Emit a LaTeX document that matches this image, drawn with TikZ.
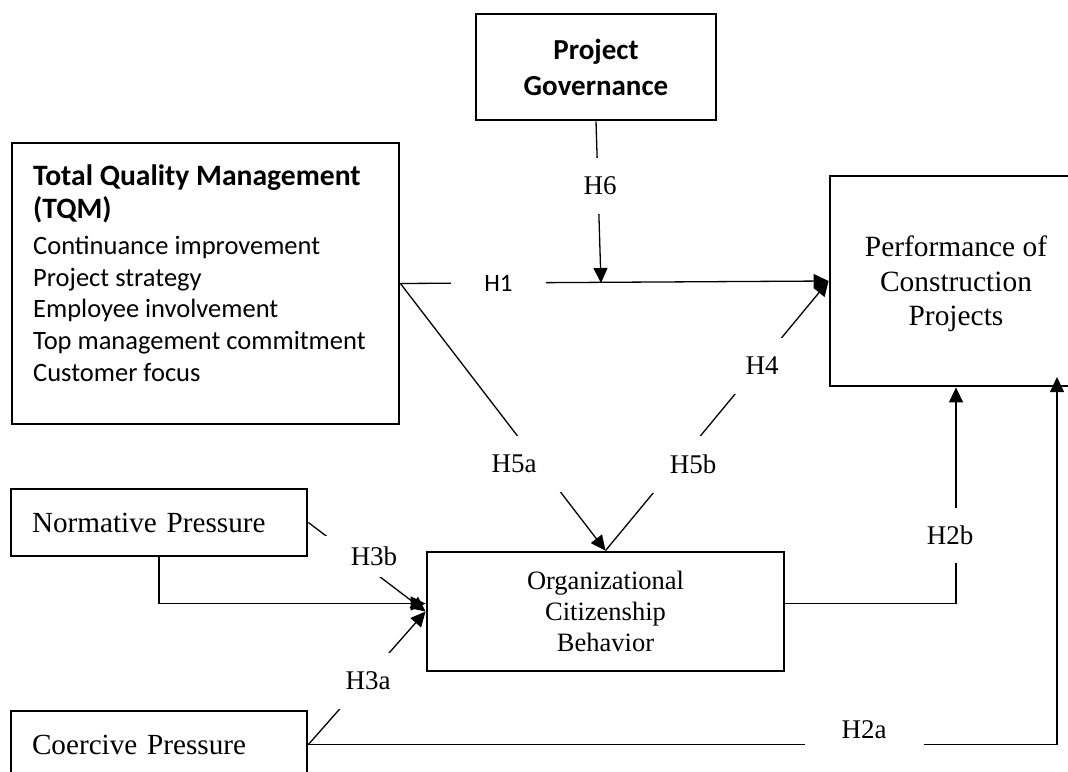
\documentclass[tikz,border=0pt]{standalone}
\usepackage{fontspec}
\setmainfont{Liberation Serif}
\newfontfamily\calibfont{Carlito}
\usetikzlibrary{arrows.meta}
\tikzset{
  box/.style={draw, line width=2.8pt, inner sep=0pt},
  arr/.style={line width=1.3pt, -{Triangle[length=15pt,width=14pt]}},
  hyp/.style={fill=white, inner sep=4pt, font=\fontsize{27}{32}\selectfont}
}
\begin{document}
\begin{tikzpicture}[x=1pt,y=-1pt]
\useasboundingbox (0,0) rectangle (1068,771);
\clip (0,0) rectangle (1068,771);

\node[box, minimum width=240pt, minimum height=106pt, align=center, font=\calibfont\bfseries\fontsize{29}{36}\selectfont] (pg) at (596,67) {Project\\Governance};
\node[box, minimum width=387pt, minimum height=281pt] (tqm) at (205.5,283.5) {};
\node[anchor=north west, inner sep=0pt, align=left, font=\calibfont\fontsize{26.5}{31.7}\selectfont] (tqmtext) at (33,165) {\textbf{\fontsize{29.6}{33}\selectfont Total Quality Management}\\[1pt]
  \textbf{\fontsize{29.6}{33}\selectfont (TQM)}\\[4pt]
  Continuance improvement\\ Project strategy\\ Employee involvement\\ Top management commitment\\ Customer focus};
\node[box, minimum width=252pt, minimum height=210pt, align=center, text depth=0pt, font=\fontsize{29.4}{34.5}\selectfont] (perf) at (956,281) {Performance of\\Construction\\Projects};
\node[box, minimum width=357pt, minimum height=119pt, align=center, font=\fontsize{26.5}{31}\selectfont] (ocb) at (605.5,611.5) {Organizational\\Citizenship\\Behavior};
\node[box, minimum width=296pt, minimum height=67pt, text width=254pt, inner xsep=21pt, align=left, font=\fontsize{29.2}{34}\selectfont] (norm) at (159,522.5) {Normative Pressure};
\node[box, minimum width=296pt, minimum height=67pt, text width=254pt, inner xsep=21pt, align=left, font=\fontsize{29.2}{34}\selectfont] (coer) at (159,744.5) {Coercive Pressure};

\coordinate (mod) at (601,283);
\coordinate (h2atip) at (1057,377);

\draw[arr] (tqm.east) -- (perf.west);
\draw[arr] (pg.south) -- (mod);
\draw[arr] (tqm.east) -- (ocb.north);
\draw[arr] (ocb.north) -- (perf.west);
\draw[arr] (norm.south) |- ([yshift=8pt]ocb.west);
\draw[arr] (norm.east) -- (ocb.west);
\draw[arr] (coer.east) -- (ocb.west);
\draw[arr] ([yshift=8pt]ocb.east) -| (perf.south);
\draw[arr] (coer.east) -| (h2atip);

\node[hyp, font=\calibfont\fontsize{25}{30}\selectfont, inner xsep=33pt] (h1) at (498.5,283) {H1};
\node[hyp, inner ysep=19pt] (h6) at (600,186) {H6};
\node[hyp, inner xsep=28pt, inner ysep=19pt] (h5a) at (514,464) {H5a};
\node[hyp, inner xsep=20pt, inner ysep=19pt] (h5b) at (693,464) {H5b};
\node[hyp, inner xsep=12pt, inner ysep=19pt] (h4) at (762,366) {H4};
\node[hyp, inner xsep=27pt, inner ysep=11pt] (h3b) at (374,556) {H3b};
\node[hyp, inner xsep=11pt, inner ysep=19pt] (h3a) at (368,681) {H3a};
\node[hyp, inner ysep=18pt] (h2b) at (950,535) {H2b};
\node[hyp, inner xsep=37pt, inner ysep=8pt] (h2a) at (864,730) {H2a};
\end{tikzpicture}
\end{document}
